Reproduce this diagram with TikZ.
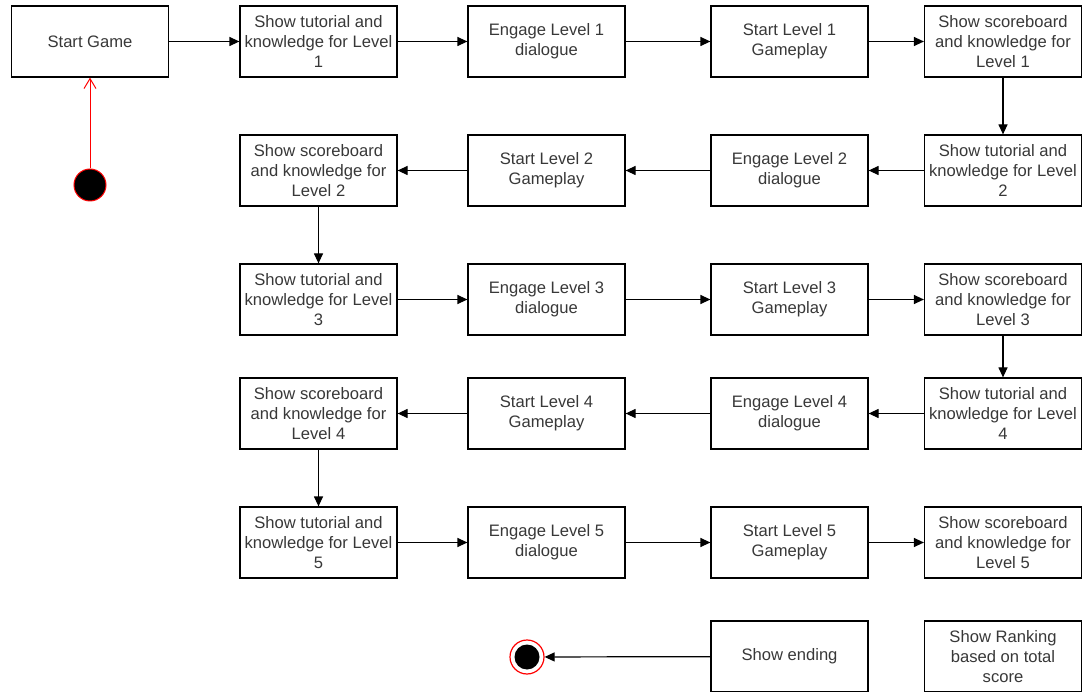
\documentclass[tikz,border=0pt]{standalone}
\usepackage{fontspec}
\setmainfont{Liberation Sans}
\usetikzlibrary{arrows.meta}
\tikzset{
  stepbox/.style={draw=black, line width=1.2pt, minimum width=157pt, minimum height=71pt,
    inner sep=0pt, align=center, font=\fontsize{16.6}{20}\selectfont, text=black!78},
  flow/.style={-{Triangle[length=10pt,width=9pt]}, line width=1.2pt},
  startarrow/.style={-{Straight Barb[length=10pt,width=12pt]}, draw=red, line width=1pt}
}
\begin{document}
\begin{tikzpicture}[x=1pt,y=-1pt]
\useasboundingbox (0,0) rectangle (1082,692);
% start and row 1
\node [stepbox] (start) at (90,41.5) {Start Game};
\node [stepbox] (tut1) at (318.5,41.5) {Show tutorial and\\knowledge for Level\\1};
\node [stepbox] (dia1) at (546.5,41.5) {Engage Level 1\\dialogue};
\node [stepbox] (play1) at (789.5,41.5) {Start Level 1\\Gameplay};
\node [stepbox] (score1) at (1003,41.5) {Show scoreboard\\and knowledge for\\Level 1};
% row 2
\node [stepbox] (tut2) at (1003,170.5) {Show tutorial and\\knowledge for Level\\2};
\node [stepbox] (dia2) at (789.5,170.5) {Engage Level 2\\dialogue};
\node [stepbox] (play2) at (546.5,170.5) {Start Level 2\\Gameplay};
\node [stepbox] (score2) at (318.5,170.5) {Show scoreboard\\and knowledge for\\Level 2};
% row 3
\node [stepbox] (tut3) at (318.5,299.5) {Show tutorial and\\knowledge for Level\\3};
\node [stepbox] (dia3) at (546.5,299.5) {Engage Level 3\\dialogue};
\node [stepbox] (play3) at (789.5,299.5) {Start Level 3\\Gameplay};
\node [stepbox] (score3) at (1003,299.5) {Show scoreboard\\and knowledge for\\Level 3};
% row 4
\node [stepbox] (tut4) at (1003,413.5) {Show tutorial and\\knowledge for Level\\4};
\node [stepbox] (dia4) at (789.5,413.5) {Engage Level 4\\dialogue};
\node [stepbox] (play4) at (546.5,413.5) {Start Level 4\\Gameplay};
\node [stepbox] (score4) at (318.5,413.5) {Show scoreboard\\and knowledge for\\Level 4};
% row 5
\node [stepbox] (tut5) at (318.5,542.5) {Show tutorial and\\knowledge for Level\\5};
\node [stepbox] (dia5) at (546.5,542.5) {Engage Level 5\\dialogue};
\node [stepbox] (play5) at (789.5,542.5) {Start Level 5\\Gameplay};
\node [stepbox] (score5) at (1003,542.5) {Show scoreboard\\and knowledge for\\Level 5};
% last row
\node [stepbox] (ending) at (789.5,656.5) {Show ending};
\node [stepbox] (ranking) at (1003,656.5) {Show Ranking\\based on total\\score};
% initial and final states
\node [circle, fill=black, draw=red, line width=1pt, minimum size=32pt, inner sep=0pt] (init) at (90,185) {};
\node [circle, draw=red, line width=1.2pt, minimum size=34pt, inner sep=0pt] (final) at (527,657) {};
\node [circle, fill=black, minimum size=25pt, inner sep=0pt] (finaldot) at (527,657) {};
% connectors
\draw [startarrow] (init) -- (start);
\draw [flow] (start) -- (tut1);
\draw [flow] (tut1) -- (dia1);
\draw [flow] (dia1) -- (play1);
\draw [flow] (play1) -- (score1);
\draw [flow] (score1) -- (tut2);
\draw [flow] (tut2) -- (dia2);
\draw [flow] (dia2) -- (play2);
\draw [flow] (play2) -- (score2);
\draw [flow] (score2) -- (tut3);
\draw [flow] (tut3) -- (dia3);
\draw [flow] (dia3) -- (play3);
\draw [flow] (play3) -- (score3);
\draw [flow] (score3) -- (tut4);
\draw [flow] (tut4) -- (dia4);
\draw [flow] (dia4) -- (play4);
\draw [flow] (play4) -- (score4);
\draw [flow] (score4) -- (tut5);
\draw [flow] (tut5) -- (dia5);
\draw [flow] (dia5) -- (play5);
\draw [flow] (play5) -- (score5);
\draw [flow] (ending) -- (final);
\end{tikzpicture}
\end{document}
